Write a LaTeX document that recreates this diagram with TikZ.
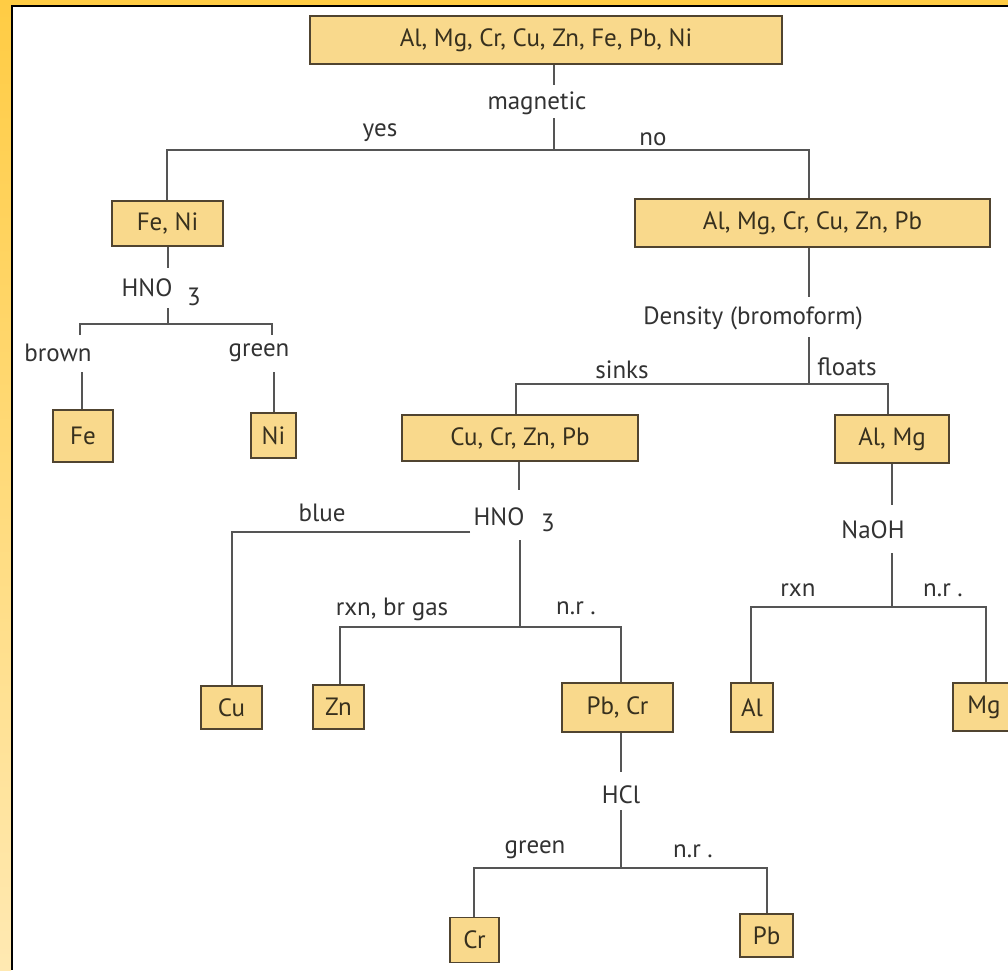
\documentclass[tikz,border=0pt]{standalone}
\usepackage{fontspec}
\setmainfont{PT Sans}
\definecolor{frameor}{RGB}{255,204,68}
\definecolor{framelt}{RGB}{255,233,178}
\definecolor{boxfill}{RGB}{249,217,140}
\definecolor{boxline}{RGB}{80,68,48}
\definecolor{linegray}{RGB}{85,85,85}
\definecolor{txtgray}{RGB}{50,50,50}
\definecolor{boxtxt}{RGB}{55,48,30}
\tikzset{
  elem/.style={draw=boxline, line width=1.8pt, fill=boxfill, text=boxtxt, inner sep=0pt, font=\fontsize{25}{28}\selectfont},
  lbl/.style={text=txtgray, inner sep=0pt, font=\fontsize{25}{28}\selectfont},
  conn/.style={draw=linegray, line width=1.8pt}
}
\begin{document}
\begin{tikzpicture}[x=1pt,y=-1pt]
\useasboundingbox (0,0) rectangle (1008,970);
\fill[white] (0,0) rectangle (1008,970);
\shade[top color=frameor, bottom color=framelt] (0,0) rectangle (11,970);
\fill[frameor] (0,0) rectangle (1008,5);
\fill[black] (11,5) rectangle (12.6,970);
\fill[black] (11,5) rectangle (1008,6.6);

% boxes
\node[elem, minimum width=472pt, minimum height=48pt] (top) at (546,40) {Al, Mg, Cr, Cu, Zn, Fe, Pb, Ni};
\node[elem, minimum width=111pt, minimum height=45pt] (feni) at (167.5,223.5) {Fe, Ni};
\node[elem, minimum width=355pt, minimum height=48pt] (alpb) at (812.5,223) {Al, Mg, Cr, Cu, Zn, Pb};
\node[elem, minimum width=60pt, minimum height=52pt] (fe) at (83,436) {Fe};
\node[elem, minimum width=45pt, minimum height=45pt] (ni) at (273.5,435.5) {Ni};
\node[elem, minimum width=236pt, minimum height=46pt] (cucr) at (520,438) {Cu, Cr, Zn, Pb};
\node[elem, minimum width=114pt, minimum height=48pt] (almg) at (892,439) {Al, Mg};
\node[elem, minimum width=61pt, minimum height=43pt] (cu) at (231.5,707.5) {Cu};
\node[elem, minimum width=51pt, minimum height=44pt] (zn) at (338.5,707) {Zn};
\node[elem, minimum width=111pt, minimum height=49pt] (pbcr) at (617.5,707.5) {Pb, Cr};
\node[elem, minimum width=42pt, minimum height=49pt] (al) at (752,707.5) {Al};
\node[elem, minimum width=62pt, minimum height=48pt] (mg) at (984,707) {Mg};
\node[elem, minimum width=49pt, minimum height=45pt] (cr) at (474.5,940) {Cr};
\node[elem, minimum width=53pt, minimum height=43pt] (pb) at (766.5,935.5) {Pb};

% labels
\node[lbl] (magn) at (537,103) {magnetic};
\node[lbl] (yes) at (380,133) {yes};
\node[lbl] (no) at (653,139) {no};
\node[lbl] (hno1) at (147,288) {HNO};
\node[lbl] (hno1s) at (194,297) {3};
\node[lbl] (brown) at (58,353) {brown};
\node[lbl] (green1) at (259,353) {green};
\node[lbl] (dens) at (753,318) {Density (bromoform)};
\node[lbl] (sinks) at (622,370) {sinks};
\node[lbl] (floats) at (847,367) {floats};
\node[lbl] (hno2) at (499,517) {HNO};
\node[lbl] (hno2s) at (548,523) {3};
\node[lbl] (blue) at (322,513) {blue};
\node[lbl] (rxnbr) at (392,609) {rxn, br gas};
\node[lbl] (nr1) at (576,608) {n.r .};
\node[lbl] (naoh) at (873,530) {NaOH};
\node[lbl] (rxn) at (798,590) {rxn};
\node[lbl] (nr2) at (943,590) {n.r .};
\node[lbl] (hcl) at (621,795) {HCl};
\node[lbl] (green2) at (535,850) {green};
\node[lbl] (nr3) at (693,851) {n.r .};

% coordinates for connectors
\coordinate (m1) at (554,85);
\coordinate (m2) at (554,118);
\coordinate (j1) at (554,150);
\coordinate (j1l) at (167,150);
\coordinate (j1r) at (809,150);

\coordinate (h1a) at (168,268);
\coordinate (h1b) at (168,308);
\coordinate (j2) at (168,324);
\coordinate (j2l) at (80,324);
\coordinate (j2r) at (272,324);
\coordinate (s2l) at (80,335);
\coordinate (s2r) at (272,335);
\coordinate (b2l) at (82,372);
\coordinate (b2r) at (274,372);

\coordinate (d1) at (809,297);
\coordinate (d2) at (809,337);
\coordinate (j3) at (809,384);
\coordinate (j3l) at (516,384);
\coordinate (j3r) at (888,384);

\coordinate (h2a) at (519,490);
\coordinate (h2b) at (520,540);
\coordinate (bl1) at (470,532);
\coordinate (bl2) at (232,532);
\coordinate (j4) at (520,627);
\coordinate (j4l) at (340,627);
\coordinate (j4r) at (621,627);

\coordinate (hc1) at (621,772);
\coordinate (hc2) at (621,810);
\coordinate (j5) at (621,868);
\coordinate (j5l) at (474,868);
\coordinate (j5r) at (767,868);

\coordinate (n1) at (892,505);
\coordinate (n2) at (892,553);
\coordinate (j6) at (892,607);
\coordinate (j6l) at (751,607);
\coordinate (j6r) at (986,607);

% connectors
\draw[conn] (top.south -| m1) -- (m1);
\draw[conn] (m2) -- (j1);
\draw[conn] (feni.north -| j1l) |- (j1r) -- (alpb.north -| j1r);

\draw[conn] (feni.south -| h1a) -- (h1a);
\draw[conn] (h1b) -- (j2);
\draw[conn] (s2l) |- (j2r) -- (s2r);
\draw[conn] (b2l) -- (fe.north -| b2l);
\draw[conn] (b2r) -- (ni.north -| b2r);

\draw[conn] (alpb.south -| d1) -- (d1);
\draw[conn] (d2) -- (j3);
\draw[conn] (cucr.north -| j3l) |- (j3r) -- (almg.north -| j3r);

\draw[conn] (cucr.south -| h2a) -- (h2a);
\draw[conn] (bl1) -- (bl2) -- (cu.north -| bl2);
\draw[conn] (h2b) -- (j4);
\draw[conn] (zn.north -| j4l) |- (j4r) -- (pbcr.north -| j4r);

\draw[conn] (pbcr.south -| hc1) -- (hc1);
\draw[conn] (hc2) -- (j5);
\draw[conn] (cr.north -| j5l) |- (j5r) -- (pb.north -| j5r);

\draw[conn] (almg.south -| n1) -- (n1);
\draw[conn] (n2) -- (j6);
\draw[conn] (al.north -| j6l) |- (j6r) -- (mg.north -| j6r);
\end{tikzpicture}
\end{document}
